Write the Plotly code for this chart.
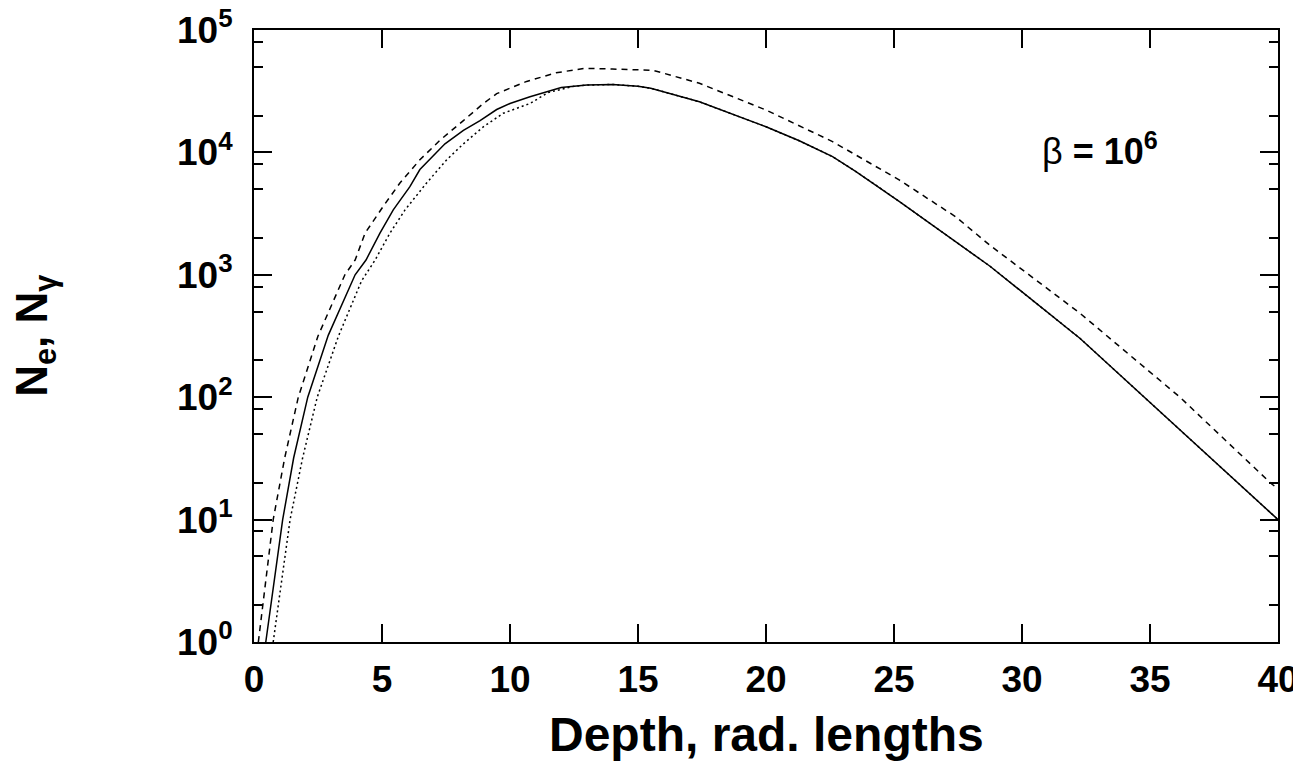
import plotly.graph_objects as go

# Depth (radiation lengths) and particle numbers
depth_dashed = [0.17, 0.75, 1.2, 1.73, 2.5, 3.55, 3.95, 4.34, 5.05, 5.70, 6.48, 7.27, 8.18, 8.96,
                9.48, 10.65, 11.8, 12.9, 14.0, 15.6, 17.4, 20.0, 22.6, 25.2, 27.4, 28.75, 32.27,
                36.17, 39.7, 40.0]
n_dashed = [1.0, 10, 32, 100, 316, 1000, 1320, 2190, 3630, 5620, 8710, 12600, 18200, 25100,
            30200, 38000, 44700, 48600, 48000, 46800, 36700, 22200, 12250, 5960, 2990, 1740, 484,
            100, 20, 17.8]

depth_solid = [0.46, 0.8, 1.12, 1.55, 2.1, 2.9, 3.95, 4.375, 4.92, 5.44, 6.09, 6.48, 7.46, 8.18,
               8.83, 9.48, 10.0, 10.78, 12.0, 13.0, 14.0, 15.0, 15.5, 17.4, 20.0, 21.3, 22.6,
               23.5, 24.45, 25.2, 28.75, 32.27, 33.05, 36.17, 40.0]
n_solid = [1.0, 3.2, 10, 32, 100, 320, 1000, 1320, 2190, 3390, 5250, 7240, 11750, 15140,
           18200, 22400, 25100, 28500, 33900, 35500, 35900, 34700, 33400, 25900, 16200, 12450, 9230,
           7000, 5130, 3980, 1175, 302, 214, 53.7, 10]

depth_dotted = [0.75, 1.08, 1.41, 1.9, 2.47, 3.3, 4.2, 4.73, 5.31, 5.9, 6.74, 7.53, 8.18, 8.96,
                9.74, 10.78, 11.5, 12.5, 13.0, 14.0, 15.0, 15.5, 17.4, 20.0, 21.3, 22.6, 23.5,
                24.45, 25.2, 28.75, 32.27, 33.05, 36.17, 40.0]
n_dotted = [1.0, 3.2, 10, 32, 100, 316, 890, 1320, 2190, 3390, 5620, 8710, 11750, 16200,
            20900, 25100, 30900, 34700, 35500, 35900, 34700, 33400, 25900, 16200, 12450, 9230, 7000,
            5130, 3980, 1175, 302, 214, 53.7, 10]

x_ticks = [0, 5, 10, 15, 20, 25, 30, 35, 40]
y_major = [1, 10, 100, 1000, 10000, 100000]
y_major_text = ["10<sup>0</sup>", "10<sup>1</sup>", "10<sup>2</sup>", "10<sup>3</sup>",
                "10<sup>4</sup>", "10<sup>5</sup>"]
y_minor = [2, 5, 8, 20, 50, 80, 200, 500, 800, 2000, 5000, 8000, 20000, 50000, 80000]

FONT = "Liberation Sans, Arial, Helvetica, sans-serif"

fig = go.Figure()
fig.add_trace(go.Scatter(x=depth_dashed, y=n_dashed, mode="lines",
                         line=dict(color="black", width=1.5, dash="6px,5px"), showlegend=False))
fig.add_trace(go.Scatter(x=depth_solid, y=n_solid, mode="lines",
                         line=dict(color="black", width=1.5), showlegend=False))
fig.add_trace(go.Scatter(x=depth_dotted, y=n_dotted, mode="lines",
                         line=dict(color="black", width=1.5, dash="2px,3px"), showlegend=False))

fig.update_layout(
    width=1293, height=753,
    margin=dict(l=246, r=23, t=22, b=119),
    paper_bgcolor="white", plot_bgcolor="white",
    font=dict(family=FONT, color="black"),
    xaxis=dict(range=[0, 40], tickmode="array", tickvals=x_ticks, automargin=False,
               ticks="inside", ticklen=18, tickwidth=2, tickcolor="black",
               showline=True, linecolor="black", linewidth=2, mirror="ticks",
               showgrid=False, zeroline=False,
               tickfont=dict(size=37, weight="bold", family=FONT),
               ticklabelstandoff=4, ticklabeloverflow="allow"),
    yaxis=dict(type="log", range=[0, 5], tickmode="array", tickvals=y_major, ticktext=y_major_text,
               automargin=False,
               ticks="inside", ticklen=18, tickwidth=2, tickcolor="black",
               showline=True, linecolor="black", linewidth=2, mirror="ticks",
               showgrid=False, zeroline=False,
               tickfont=dict(size=37, weight="bold", family=FONT),
               ticklabelstandoff=12, ticklabeloverflow="allow",
               minor=dict(tickmode="array", tickvals=y_minor, ticks="inside", ticklen=9,
                          tickwidth=2, tickcolor="black", showgrid=False)),
)

# axis titles
fig.add_annotation(x=0.5, y=-0.105, xref="paper", yref="paper", xanchor="center", yanchor="top",
                   text="<b>Depth, rad. lengths</b>", showarrow=False,
                   font=dict(size=48, family=FONT, color="black"))
fig.add_annotation(x=-0.214, y=0.5, xref="paper", yref="paper", xanchor="center", yanchor="middle",
                   text="<b>N<sub>e</sub>, N<sub>γ</sub></b>", showarrow=False, textangle=-90,
                   font=dict(size=44, family=FONT, color="black"))

fig.add_annotation(x=0.768, y=0.805, xref="paper", yref="paper", xanchor="left", yanchor="middle",
                   text="β <b>= 10<sup>6</sup></b>", showarrow=False,
                   font=dict(size=36, family=FONT, color="black"))

fig.write_html("out.html")
